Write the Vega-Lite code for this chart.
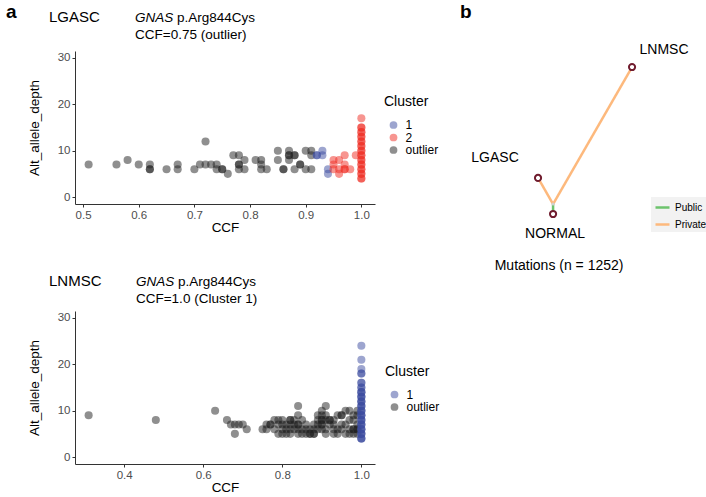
{
  "$schema": "https://vega.github.io/schema/vega-lite/v6.json",
  "padding": {"left": 5, "top": 2, "right": 0, "bottom": 0},
  "background": "white",
  "config": {
    "font": "Liberation Sans",
    "view": {"stroke": null},
    "axis": {"grid": false, "domainColor": "#333333", "tickColor": "#333333", "labelColor": "#4d4d4d", "labelFontSize": 11.5, "titleFontSize": 13.5, "titleFontWeight": "normal", "titleColor": "#000000", "tickSize": 3, "labelPadding": 2, "titlePadding": 0},
    "legend": {"titleFontSize": 14, "titleFontWeight": "normal", "titleColor": "#000000", "labelFontSize": 12, "labelColor": "#000000", "symbolSize": 60, "rowPadding": 0.5, "titlePadding": 10, "symbolOffset": 3.5, "labelOffset": 6, "padding": 0}
  },
  "datasets": {
    "lgasc": [
      {"CCF": 0.51, "Alt_allele_depth": 7, "Cluster": "outlier"},
      {"CCF": 0.56, "Alt_allele_depth": 7, "Cluster": "outlier"},
      {"CCF": 0.58, "Alt_allele_depth": 8, "Cluster": "outlier"},
      {"CCF": 0.60, "Alt_allele_depth": 7, "Cluster": "outlier"},
      {"CCF": 0.62, "Alt_allele_depth": 7, "Cluster": "outlier"},
      {"CCF": 0.62, "Alt_allele_depth": 6, "Cluster": "outlier"},
      {"CCF": 0.62, "Alt_allele_depth": 6, "Cluster": "outlier"},
      {"CCF": 0.65, "Alt_allele_depth": 6, "Cluster": "outlier"},
      {"CCF": 0.67, "Alt_allele_depth": 7, "Cluster": "outlier"},
      {"CCF": 0.67, "Alt_allele_depth": 6, "Cluster": "outlier"},
      {"CCF": 0.70, "Alt_allele_depth": 6, "Cluster": "outlier"},
      {"CCF": 0.71, "Alt_allele_depth": 7, "Cluster": "outlier"},
      {"CCF": 0.72, "Alt_allele_depth": 7, "Cluster": "outlier"},
      {"CCF": 0.72, "Alt_allele_depth": 12, "Cluster": "outlier"},
      {"CCF": 0.73, "Alt_allele_depth": 7, "Cluster": "outlier"},
      {"CCF": 0.74, "Alt_allele_depth": 7, "Cluster": "outlier"},
      {"CCF": 0.74, "Alt_allele_depth": 6, "Cluster": "outlier"},
      {"CCF": 0.75, "Alt_allele_depth": 6, "Cluster": "outlier"},
      {"CCF": 0.75, "Alt_allele_depth": 6, "Cluster": "outlier"},
      {"CCF": 0.76, "Alt_allele_depth": 5, "Cluster": "outlier"},
      {"CCF": 0.77, "Alt_allele_depth": 9, "Cluster": "outlier"},
      {"CCF": 0.78, "Alt_allele_depth": 9, "Cluster": "outlier"},
      {"CCF": 0.78, "Alt_allele_depth": 7, "Cluster": "outlier"},
      {"CCF": 0.78, "Alt_allele_depth": 7, "Cluster": "outlier"},
      {"CCF": 0.78, "Alt_allele_depth": 6, "Cluster": "outlier"},
      {"CCF": 0.79, "Alt_allele_depth": 8, "Cluster": "outlier"},
      {"CCF": 0.79, "Alt_allele_depth": 6, "Cluster": "outlier"},
      {"CCF": 0.81, "Alt_allele_depth": 8, "Cluster": "outlier"},
      {"CCF": 0.82, "Alt_allele_depth": 8, "Cluster": "outlier"},
      {"CCF": 0.82, "Alt_allele_depth": 7, "Cluster": "outlier"},
      {"CCF": 0.82, "Alt_allele_depth": 6, "Cluster": "outlier"},
      {"CCF": 0.83, "Alt_allele_depth": 6, "Cluster": "outlier"},
      {"CCF": 0.85, "Alt_allele_depth": 10, "Cluster": "outlier"},
      {"CCF": 0.85, "Alt_allele_depth": 8, "Cluster": "outlier"},
      {"CCF": 0.86, "Alt_allele_depth": 6, "Cluster": "outlier"},
      {"CCF": 0.86, "Alt_allele_depth": 6, "Cluster": "outlier"},
      {"CCF": 0.87, "Alt_allele_depth": 10, "Cluster": "outlier"},
      {"CCF": 0.87, "Alt_allele_depth": 9, "Cluster": "outlier"},
      {"CCF": 0.87, "Alt_allele_depth": 9, "Cluster": "outlier"},
      {"CCF": 0.87, "Alt_allele_depth": 8, "Cluster": "outlier"},
      {"CCF": 0.88, "Alt_allele_depth": 9, "Cluster": "outlier"},
      {"CCF": 0.88, "Alt_allele_depth": 9, "Cluster": "outlier"},
      {"CCF": 0.88, "Alt_allele_depth": 6, "Cluster": "outlier"},
      {"CCF": 0.89, "Alt_allele_depth": 7, "Cluster": "outlier"},
      {"CCF": 0.89, "Alt_allele_depth": 7, "Cluster": "outlier"},
      {"CCF": 0.90, "Alt_allele_depth": 10, "Cluster": "outlier"},
      {"CCF": 0.90, "Alt_allele_depth": 6, "Cluster": "outlier"},
      {"CCF": 0.91, "Alt_allele_depth": 10, "Cluster": "outlier"},
      {"CCF": 0.91, "Alt_allele_depth": 9, "Cluster": "outlier"},
      {"CCF": 0.91, "Alt_allele_depth": 6, "Cluster": "outlier"},
      {"CCF": 0.92, "Alt_allele_depth": 9, "Cluster": "1"},
      {"CCF": 0.92, "Alt_allele_depth": 9, "Cluster": "1"},
      {"CCF": 0.93, "Alt_allele_depth": 10, "Cluster": "1"},
      {"CCF": 0.93, "Alt_allele_depth": 9, "Cluster": "1"},
      {"CCF": 0.94, "Alt_allele_depth": 6, "Cluster": "1"},
      {"CCF": 0.94, "Alt_allele_depth": 5, "Cluster": "1"},
      {"CCF": 0.95, "Alt_allele_depth": 7, "Cluster": "2"},
      {"CCF": 0.95, "Alt_allele_depth": 8, "Cluster": "2"},
      {"CCF": 0.95, "Alt_allele_depth": 6, "Cluster": "2"},
      {"CCF": 0.96, "Alt_allele_depth": 8, "Cluster": "2"},
      {"CCF": 0.96, "Alt_allele_depth": 6, "Cluster": "2"},
      {"CCF": 0.96, "Alt_allele_depth": 5, "Cluster": "2"},
      {"CCF": 0.97, "Alt_allele_depth": 9, "Cluster": "2"},
      {"CCF": 0.97, "Alt_allele_depth": 7, "Cluster": "2"},
      {"CCF": 0.97, "Alt_allele_depth": 6, "Cluster": "2"},
      {"CCF": 0.97, "Alt_allele_depth": 6, "Cluster": "2"},
      {"CCF": 0.98, "Alt_allele_depth": 6, "Cluster": "2"},
      {"CCF": 0.99, "Alt_allele_depth": 9, "Cluster": "2"},
      {"CCF": 1.0, "Alt_allele_depth": 4, "Cluster": "2"},
      {"CCF": 1.0, "Alt_allele_depth": 4, "Cluster": "2"},
      {"CCF": 1.0, "Alt_allele_depth": 5, "Cluster": "2"},
      {"CCF": 1.0, "Alt_allele_depth": 5, "Cluster": "2"},
      {"CCF": 1.0, "Alt_allele_depth": 6, "Cluster": "2"},
      {"CCF": 1.0, "Alt_allele_depth": 6, "Cluster": "2"},
      {"CCF": 1.0, "Alt_allele_depth": 7, "Cluster": "2"},
      {"CCF": 1.0, "Alt_allele_depth": 7, "Cluster": "2"},
      {"CCF": 1.0, "Alt_allele_depth": 8, "Cluster": "2"},
      {"CCF": 1.0, "Alt_allele_depth": 8, "Cluster": "2"},
      {"CCF": 1.0, "Alt_allele_depth": 9, "Cluster": "2"},
      {"CCF": 1.0, "Alt_allele_depth": 9, "Cluster": "2"},
      {"CCF": 1.0, "Alt_allele_depth": 10, "Cluster": "2"},
      {"CCF": 1.0, "Alt_allele_depth": 10, "Cluster": "2"},
      {"CCF": 1.0, "Alt_allele_depth": 11, "Cluster": "2"},
      {"CCF": 1.0, "Alt_allele_depth": 11, "Cluster": "2"},
      {"CCF": 1.0, "Alt_allele_depth": 12, "Cluster": "2"},
      {"CCF": 1.0, "Alt_allele_depth": 12, "Cluster": "2"},
      {"CCF": 1.0, "Alt_allele_depth": 13, "Cluster": "2"},
      {"CCF": 1.0, "Alt_allele_depth": 13, "Cluster": "2"},
      {"CCF": 1.0, "Alt_allele_depth": 14, "Cluster": "2"},
      {"CCF": 1.0, "Alt_allele_depth": 14, "Cluster": "2"},
      {"CCF": 1.0, "Alt_allele_depth": 15, "Cluster": "2"},
      {"CCF": 1.0, "Alt_allele_depth": 15, "Cluster": "2"},
      {"CCF": 1.0, "Alt_allele_depth": 17, "Cluster": "2"}
    ],
    "lnmsc": [
      {"CCF": 0.31, "Alt_allele_depth": 9, "Cluster": "outlier"},
      {"CCF": 0.48, "Alt_allele_depth": 8, "Cluster": "outlier"},
      {"CCF": 0.63, "Alt_allele_depth": 10, "Cluster": "outlier"},
      {"CCF": 0.66, "Alt_allele_depth": 8, "Cluster": "outlier"},
      {"CCF": 0.67, "Alt_allele_depth": 7, "Cluster": "outlier"},
      {"CCF": 0.68, "Alt_allele_depth": 7, "Cluster": "outlier"},
      {"CCF": 0.69, "Alt_allele_depth": 7, "Cluster": "outlier"},
      {"CCF": 0.70, "Alt_allele_depth": 7, "Cluster": "outlier"},
      {"CCF": 0.68, "Alt_allele_depth": 5, "Cluster": "outlier"},
      {"CCF": 0.71, "Alt_allele_depth": 6, "Cluster": "outlier"},
      {"CCF": 0.75, "Alt_allele_depth": 6, "Cluster": "outlier"},
      {"CCF": 0.76, "Alt_allele_depth": 6, "Cluster": "outlier"},
      {"CCF": 0.76, "Alt_allele_depth": 7, "Cluster": "outlier"},
      {"CCF": 0.77, "Alt_allele_depth": 7, "Cluster": "outlier"},
      {"CCF": 0.77, "Alt_allele_depth": 7, "Cluster": "outlier"},
      {"CCF": 0.78, "Alt_allele_depth": 8, "Cluster": "outlier"},
      {"CCF": 0.78, "Alt_allele_depth": 6, "Cluster": "outlier"},
      {"CCF": 0.79, "Alt_allele_depth": 8, "Cluster": "outlier"},
      {"CCF": 0.79, "Alt_allele_depth": 7, "Cluster": "outlier"},
      {"CCF": 0.79, "Alt_allele_depth": 5, "Cluster": "outlier"},
      {"CCF": 0.80, "Alt_allele_depth": 8, "Cluster": "outlier"},
      {"CCF": 0.80, "Alt_allele_depth": 7, "Cluster": "outlier"},
      {"CCF": 0.80, "Alt_allele_depth": 6, "Cluster": "outlier"},
      {"CCF": 0.80, "Alt_allele_depth": 5, "Cluster": "outlier"},
      {"CCF": 0.81, "Alt_allele_depth": 7, "Cluster": "outlier"},
      {"CCF": 0.81, "Alt_allele_depth": 6, "Cluster": "outlier"},
      {"CCF": 0.81, "Alt_allele_depth": 5, "Cluster": "outlier"},
      {"CCF": 0.82, "Alt_allele_depth": 8, "Cluster": "outlier"},
      {"CCF": 0.82, "Alt_allele_depth": 8, "Cluster": "outlier"},
      {"CCF": 0.82, "Alt_allele_depth": 7, "Cluster": "outlier"},
      {"CCF": 0.82, "Alt_allele_depth": 6, "Cluster": "outlier"},
      {"CCF": 0.82, "Alt_allele_depth": 5, "Cluster": "outlier"},
      {"CCF": 0.83, "Alt_allele_depth": 8, "Cluster": "outlier"},
      {"CCF": 0.83, "Alt_allele_depth": 7, "Cluster": "outlier"},
      {"CCF": 0.83, "Alt_allele_depth": 6, "Cluster": "outlier"},
      {"CCF": 0.84, "Alt_allele_depth": 11, "Cluster": "outlier"},
      {"CCF": 0.84, "Alt_allele_depth": 9, "Cluster": "outlier"},
      {"CCF": 0.84, "Alt_allele_depth": 7, "Cluster": "outlier"},
      {"CCF": 0.84, "Alt_allele_depth": 7, "Cluster": "outlier"},
      {"CCF": 0.84, "Alt_allele_depth": 6, "Cluster": "outlier"},
      {"CCF": 0.84, "Alt_allele_depth": 5, "Cluster": "outlier"},
      {"CCF": 0.85, "Alt_allele_depth": 8, "Cluster": "outlier"},
      {"CCF": 0.85, "Alt_allele_depth": 6, "Cluster": "outlier"},
      {"CCF": 0.85, "Alt_allele_depth": 5, "Cluster": "outlier"},
      {"CCF": 0.86, "Alt_allele_depth": 7, "Cluster": "outlier"},
      {"CCF": 0.86, "Alt_allele_depth": 6, "Cluster": "outlier"},
      {"CCF": 0.86, "Alt_allele_depth": 5, "Cluster": "outlier"},
      {"CCF": 0.87, "Alt_allele_depth": 6, "Cluster": "outlier"},
      {"CCF": 0.87, "Alt_allele_depth": 5, "Cluster": "outlier"},
      {"CCF": 0.87, "Alt_allele_depth": 5, "Cluster": "outlier"},
      {"CCF": 0.88, "Alt_allele_depth": 7, "Cluster": "outlier"},
      {"CCF": 0.88, "Alt_allele_depth": 6, "Cluster": "outlier"},
      {"CCF": 0.88, "Alt_allele_depth": 5, "Cluster": "outlier"},
      {"CCF": 0.88, "Alt_allele_depth": 5, "Cluster": "outlier"},
      {"CCF": 0.89, "Alt_allele_depth": 9, "Cluster": "outlier"},
      {"CCF": 0.89, "Alt_allele_depth": 8, "Cluster": "outlier"},
      {"CCF": 0.89, "Alt_allele_depth": 7, "Cluster": "outlier"},
      {"CCF": 0.89, "Alt_allele_depth": 6, "Cluster": "outlier"},
      {"CCF": 0.90, "Alt_allele_depth": 10, "Cluster": "outlier"},
      {"CCF": 0.90, "Alt_allele_depth": 9, "Cluster": "outlier"},
      {"CCF": 0.90, "Alt_allele_depth": 8, "Cluster": "outlier"},
      {"CCF": 0.90, "Alt_allele_depth": 8, "Cluster": "outlier"},
      {"CCF": 0.90, "Alt_allele_depth": 7, "Cluster": "outlier"},
      {"CCF": 0.90, "Alt_allele_depth": 7, "Cluster": "outlier"},
      {"CCF": 0.90, "Alt_allele_depth": 6, "Cluster": "outlier"},
      {"CCF": 0.91, "Alt_allele_depth": 11, "Cluster": "outlier"},
      {"CCF": 0.91, "Alt_allele_depth": 9, "Cluster": "outlier"},
      {"CCF": 0.91, "Alt_allele_depth": 8, "Cluster": "outlier"},
      {"CCF": 0.91, "Alt_allele_depth": 6, "Cluster": "outlier"},
      {"CCF": 0.91, "Alt_allele_depth": 5, "Cluster": "outlier"},
      {"CCF": 0.92, "Alt_allele_depth": 8, "Cluster": "outlier"},
      {"CCF": 0.92, "Alt_allele_depth": 8, "Cluster": "outlier"},
      {"CCF": 0.92, "Alt_allele_depth": 7, "Cluster": "outlier"},
      {"CCF": 0.93, "Alt_allele_depth": 8, "Cluster": "outlier"},
      {"CCF": 0.93, "Alt_allele_depth": 7, "Cluster": "outlier"},
      {"CCF": 0.93, "Alt_allele_depth": 6, "Cluster": "outlier"},
      {"CCF": 0.93, "Alt_allele_depth": 5, "Cluster": "outlier"},
      {"CCF": 0.94, "Alt_allele_depth": 9, "Cluster": "outlier"},
      {"CCF": 0.94, "Alt_allele_depth": 6, "Cluster": "outlier"},
      {"CCF": 0.94, "Alt_allele_depth": 5, "Cluster": "outlier"},
      {"CCF": 0.95, "Alt_allele_depth": 9, "Cluster": "outlier"},
      {"CCF": 0.95, "Alt_allele_depth": 9, "Cluster": "outlier"},
      {"CCF": 0.95, "Alt_allele_depth": 7, "Cluster": "outlier"},
      {"CCF": 0.95, "Alt_allele_depth": 6, "Cluster": "outlier"},
      {"CCF": 0.96, "Alt_allele_depth": 10, "Cluster": "outlier"},
      {"CCF": 0.96, "Alt_allele_depth": 7, "Cluster": "outlier"},
      {"CCF": 0.96, "Alt_allele_depth": 5, "Cluster": "outlier"},
      {"CCF": 0.97, "Alt_allele_depth": 10, "Cluster": "outlier"},
      {"CCF": 0.97, "Alt_allele_depth": 8, "Cluster": "outlier"},
      {"CCF": 0.97, "Alt_allele_depth": 6, "Cluster": "outlier"},
      {"CCF": 0.97, "Alt_allele_depth": 5, "Cluster": "outlier"},
      {"CCF": 0.98, "Alt_allele_depth": 9, "Cluster": "outlier"},
      {"CCF": 0.98, "Alt_allele_depth": 8, "Cluster": "outlier"},
      {"CCF": 0.98, "Alt_allele_depth": 6, "Cluster": "outlier"},
      {"CCF": 0.98, "Alt_allele_depth": 6, "Cluster": "outlier"},
      {"CCF": 0.98, "Alt_allele_depth": 5, "Cluster": "outlier"},
      {"CCF": 0.99, "Alt_allele_depth": 10, "Cluster": "outlier"},
      {"CCF": 0.99, "Alt_allele_depth": 9, "Cluster": "outlier"},
      {"CCF": 0.99, "Alt_allele_depth": 7, "Cluster": "outlier"},
      {"CCF": 0.99, "Alt_allele_depth": 6, "Cluster": "outlier"},
      {"CCF": 0.99, "Alt_allele_depth": 6, "Cluster": "outlier"},
      {"CCF": 0.99, "Alt_allele_depth": 5, "Cluster": "outlier"},
      {"CCF": 1.0, "Alt_allele_depth": 4, "Cluster": "1"},
      {"CCF": 1.0, "Alt_allele_depth": 4, "Cluster": "1"},
      {"CCF": 1.0, "Alt_allele_depth": 4, "Cluster": "1"},
      {"CCF": 1.0, "Alt_allele_depth": 5, "Cluster": "1"},
      {"CCF": 1.0, "Alt_allele_depth": 5, "Cluster": "1"},
      {"CCF": 1.0, "Alt_allele_depth": 5, "Cluster": "1"},
      {"CCF": 1.0, "Alt_allele_depth": 6, "Cluster": "1"},
      {"CCF": 1.0, "Alt_allele_depth": 6, "Cluster": "1"},
      {"CCF": 1.0, "Alt_allele_depth": 6, "Cluster": "1"},
      {"CCF": 1.0, "Alt_allele_depth": 7, "Cluster": "1"},
      {"CCF": 1.0, "Alt_allele_depth": 7, "Cluster": "1"},
      {"CCF": 1.0, "Alt_allele_depth": 7, "Cluster": "1"},
      {"CCF": 1.0, "Alt_allele_depth": 8, "Cluster": "1"},
      {"CCF": 1.0, "Alt_allele_depth": 8, "Cluster": "1"},
      {"CCF": 1.0, "Alt_allele_depth": 8, "Cluster": "1"},
      {"CCF": 1.0, "Alt_allele_depth": 9, "Cluster": "1"},
      {"CCF": 1.0, "Alt_allele_depth": 9, "Cluster": "1"},
      {"CCF": 1.0, "Alt_allele_depth": 9, "Cluster": "1"},
      {"CCF": 1.0, "Alt_allele_depth": 10, "Cluster": "1"},
      {"CCF": 1.0, "Alt_allele_depth": 10, "Cluster": "1"},
      {"CCF": 1.0, "Alt_allele_depth": 10, "Cluster": "1"},
      {"CCF": 1.0, "Alt_allele_depth": 11, "Cluster": "1"},
      {"CCF": 1.0, "Alt_allele_depth": 11, "Cluster": "1"},
      {"CCF": 1.0, "Alt_allele_depth": 11, "Cluster": "1"},
      {"CCF": 1.0, "Alt_allele_depth": 12, "Cluster": "1"},
      {"CCF": 1.0, "Alt_allele_depth": 12, "Cluster": "1"},
      {"CCF": 1.0, "Alt_allele_depth": 12, "Cluster": "1"},
      {"CCF": 1.0, "Alt_allele_depth": 13, "Cluster": "1"},
      {"CCF": 1.0, "Alt_allele_depth": 13, "Cluster": "1"},
      {"CCF": 1.0, "Alt_allele_depth": 13, "Cluster": "1"},
      {"CCF": 1.0, "Alt_allele_depth": 14, "Cluster": "1"},
      {"CCF": 1.0, "Alt_allele_depth": 14, "Cluster": "1"},
      {"CCF": 1.0, "Alt_allele_depth": 14, "Cluster": "1"},
      {"CCF": 1.0, "Alt_allele_depth": 15, "Cluster": "1"},
      {"CCF": 1.0, "Alt_allele_depth": 15, "Cluster": "1"},
      {"CCF": 1.0, "Alt_allele_depth": 16, "Cluster": "1"},
      {"CCF": 1.0, "Alt_allele_depth": 16, "Cluster": "1"},
      {"CCF": 1.0, "Alt_allele_depth": 18, "Cluster": "1"},
      {"CCF": 1.0, "Alt_allele_depth": 18, "Cluster": "1"},
      {"CCF": 1.0, "Alt_allele_depth": 19, "Cluster": "1"},
      {"CCF": 1.0, "Alt_allele_depth": 21, "Cluster": "1"},
      {"CCF": 1.0, "Alt_allele_depth": 24, "Cluster": "1"}
    ],
    "edges": [
      {"branch": "NORMAL-MRCA", "type": "Public", "x": 0, "y": 0, "x2": 0, "y2": 63},
      {"branch": "MRCA-LGASC", "type": "Private", "x": 0, "y": 63, "x2": -95, "y2": 228},
      {"branch": "MRCA-LNMSC", "type": "Private", "x": 0, "y": 63, "x2": 499, "y2": 929}
    ],
    "nodes": [
      {"node": "NORMAL", "x": 0, "y": 0},
      {"node": "LGASC", "x": -95, "y": 228},
      {"node": "LNMSC", "x": 499, "y": 929}
    ],
    "mrca": [
      {"node": "MRCA", "x": 0, "y": 63}
    ]
  },
  "hconcat": [
    {
      "vconcat": [
        {
          "width": 300,
          "height": 153,
          "layer": [
            {
              "data": {"name": "lgasc"},
              "mark": {"type": "circle", "size": 65, "opacity": 0.5},
              "encoding": {
                "x": {"field": "CCF", "type": "quantitative", "scale": {"domain": [0.4855, 1.0245], "nice": false, "zero": false}, "axis": {"values": [0.5, 0.6, 0.7, 0.8, 0.9, 1.0], "format": ".1f", "title": "CCF"}},
                "y": {"field": "Alt_allele_depth", "type": "quantitative", "scale": {"domain": [-1.5, 31.5], "nice": false, "zero": false}, "axis": {"values": [0, 10, 20, 30], "title": "Alt_allele_depth", "titlePadding": 16}},
                "color": {"field": "Cluster", "type": "nominal", "scale": {"domain": ["1", "2", "outlier"], "range": ["#3B4B9F", "#EF2B21", "#1F1F1F"]}, "legend": {"title": "Cluster", "orient": "none", "legendX": 309, "legendY": 44}}
              }
            },
            {"data": {"values": [{}]}, "mark": {"type": "text", "text": "a", "fontSize": 19, "fontWeight": "bold", "align": "left", "baseline": "alphabetic"}, "encoding": {"x": {"datum": 0.3614, "type": "quantitative"}, "y": {"datum": 38.6, "type": "quantitative"}}},
            {"data": {"values": [{}]}, "mark": {"type": "text", "text": "LGASC", "fontSize": 15, "align": "left", "baseline": "alphabetic"}, "encoding": {"x": {"datum": 0.4387, "type": "quantitative"}, "y": {"datum": 37.65, "type": "quantitative"}}},
            {"data": {"values": [{}]}, "mark": {"type": "text", "text": "GNAS", "fontSize": 13.5, "fontStyle": "italic", "align": "left", "baseline": "alphabetic"}, "encoding": {"x": {"datum": 0.5934, "type": "quantitative"}, "y": {"datum": 37.65, "type": "quantitative"}}},
            {"data": {"values": [{}]}, "mark": {"type": "text", "text": "p.Arg844Cys", "fontSize": 13.5, "align": "left", "baseline": "alphabetic"}, "encoding": {"x": {"datum": 0.6689, "type": "quantitative"}, "y": {"datum": 37.65, "type": "quantitative"}}},
            {"data": {"values": [{}]}, "mark": {"type": "text", "text": "CCF=0.75 (outlier)", "fontSize": 13.5, "align": "left", "baseline": "alphabetic"}, "encoding": {"x": {"datum": 0.5934, "type": "quantitative"}, "y": {"datum": 34.15, "type": "quantitative"}}}
          ]
        },
        {
          "width": 300,
          "height": 153,
          "layer": [
            {
              "data": {"name": "lnmsc"},
              "mark": {"type": "circle", "size": 65, "opacity": 0.5},
              "encoding": {
                "x": {"field": "CCF", "type": "quantitative", "scale": {"domain": [0.2755, 1.0345], "nice": false, "zero": false}, "axis": {"values": [0.4, 0.6, 0.8, 1.0], "format": ".1f", "title": "CCF"}},
                "y": {"field": "Alt_allele_depth", "type": "quantitative", "scale": {"domain": [-1.5, 31.5], "nice": false, "zero": false}, "axis": {"values": [0, 10, 20, 30], "title": "Alt_allele_depth", "titlePadding": 16}},
                "color": {"field": "Cluster", "type": "nominal", "scale": {"domain": ["1", "outlier"], "range": ["#3B4B9F", "#1F1F1F"]}, "legend": {"title": "Cluster", "orient": "none", "legendX": 310, "legendY": 53.5}}
              }
            },
            {"data": {"values": [{}]}, "mark": {"type": "text", "text": "LNMSC", "fontSize": 15, "align": "left", "baseline": "alphabetic"}, "encoding": {"x": {"datum": 0.2097, "type": "quantitative"}, "y": {"datum": 36.83, "type": "quantitative"}}},
            {"data": {"values": [{}]}, "mark": {"type": "text", "text": "GNAS", "fontSize": 13.5, "fontStyle": "italic", "align": "left", "baseline": "alphabetic"}, "encoding": {"x": {"datum": 0.4298, "type": "quantitative"}, "y": {"datum": 36.83, "type": "quantitative"}}},
            {"data": {"values": [{}]}, "mark": {"type": "text", "text": "p.Arg844Cys", "fontSize": 13.5, "align": "left", "baseline": "alphabetic"}, "encoding": {"x": {"datum": 0.536, "type": "quantitative"}, "y": {"datum": 36.83, "type": "quantitative"}}},
            {"data": {"values": [{}]}, "mark": {"type": "text", "text": "CCF=1.0 (Cluster 1)", "fontSize": 13.5, "align": "left", "baseline": "alphabetic"}, "encoding": {"x": {"datum": 0.4298, "type": "quantitative"}, "y": {"datum": 33.29, "type": "quantitative"}}}
          ]
        }
      ],
      "spacing": 40,
      "resolve": {"scale": {"color": "independent"}, "legend": {"color": "independent"}}
    },
    {
      "width": 254,
      "height": 230,
      "layer": [
        {
          "data": {"name": "edges"},
          "mark": {"type": "rule", "strokeWidth": 2.5},
          "encoding": {
            "x": {"field": "x", "type": "quantitative", "scale": {"domain": [-626, 979], "nice": false, "zero": false}, "axis": null},
            "y": {"field": "y", "type": "quantitative", "scale": {"domain": [-423.4, 1030.2], "nice": false, "zero": false}, "axis": null},
            "x2": {"field": "x2"},
            "y2": {"field": "y2"},
            "stroke": {"field": "type", "type": "nominal", "scale": {"domain": ["Public", "Private"], "range": ["#6DC36D", "#FDB97D"]}, "legend": {"title": null, "orient": "none", "legendX": 197, "legendY": 146, "symbolType": "stroke", "symbolStrokeWidth": 2.5, "symbolSize": 196, "symbolOffset": 1, "labelOffset": 4, "labelFontSize": 10, "rowPadding": 3, "padding": 2, "fillColor": "#f2f2f2"}}
          }
        },
        {
          "data": {"name": "mrca"},
          "mark": {"type": "point", "filled": true, "size": 10, "color": "#d0d0d0", "opacity": 1},
          "encoding": {"x": {"field": "x", "type": "quantitative"}, "y": {"field": "y", "type": "quantitative"}}
        },
        {
          "data": {"name": "nodes"},
          "mark": {"type": "point", "filled": false, "size": 38, "strokeWidth": 2, "stroke": "#701C2E", "fill": "white", "fillOpacity": 1, "opacity": 1},
          "encoding": {"x": {"field": "x", "type": "quantitative"}, "y": {"field": "y", "type": "quantitative"}}
        },
        {
          "data": {"name": "nodes"},
          "transform": [{"filter": "datum.node === 'LNMSC'"}],
          "mark": {"type": "text", "fontSize": 14, "dx": 32, "dy": -17, "align": "center", "baseline": "middle"},
          "encoding": {"x": {"field": "x", "type": "quantitative"}, "y": {"field": "y", "type": "quantitative"}, "text": {"field": "node"}}
        },
        {
          "data": {"name": "nodes"},
          "transform": [{"filter": "datum.node === 'LGASC'"}],
          "mark": {"type": "text", "fontSize": 14, "dx": -43, "dy": -20, "align": "center", "baseline": "middle"},
          "encoding": {"x": {"field": "x", "type": "quantitative"}, "y": {"field": "y", "type": "quantitative"}, "text": {"field": "node"}}
        },
        {
          "data": {"name": "nodes"},
          "transform": [{"filter": "datum.node === 'NORMAL'"}],
          "mark": {"type": "text", "fontSize": 14, "dx": 2, "dy": 20, "align": "center", "baseline": "middle"},
          "encoding": {"x": {"field": "x", "type": "quantitative"}, "y": {"field": "y", "type": "quantitative"}, "text": {"field": "node"}}
        },
        {"data": {"values": [{}]}, "mark": {"type": "text", "text": "Mutations (n = 1252)", "fontSize": 14, "align": "center", "baseline": "middle"}, "encoding": {"x": {"datum": 38, "type": "quantitative"}, "y": {"datum": -329, "type": "quantitative"}}},
        {"data": {"values": [{}]}, "mark": {"type": "text", "text": "b", "fontSize": 19, "fontWeight": "bold", "align": "left", "baseline": "alphabetic"}, "encoding": {"x": {"datum": -588, "type": "quantitative"}, "y": {"datum": 1238.8, "type": "quantitative"}}}
      ]
    }
  ],
  "spacing": 14,
  "resolve": {"scale": {"color": "independent", "stroke": "independent"}, "legend": {"color": "independent", "stroke": "independent"}}
}
